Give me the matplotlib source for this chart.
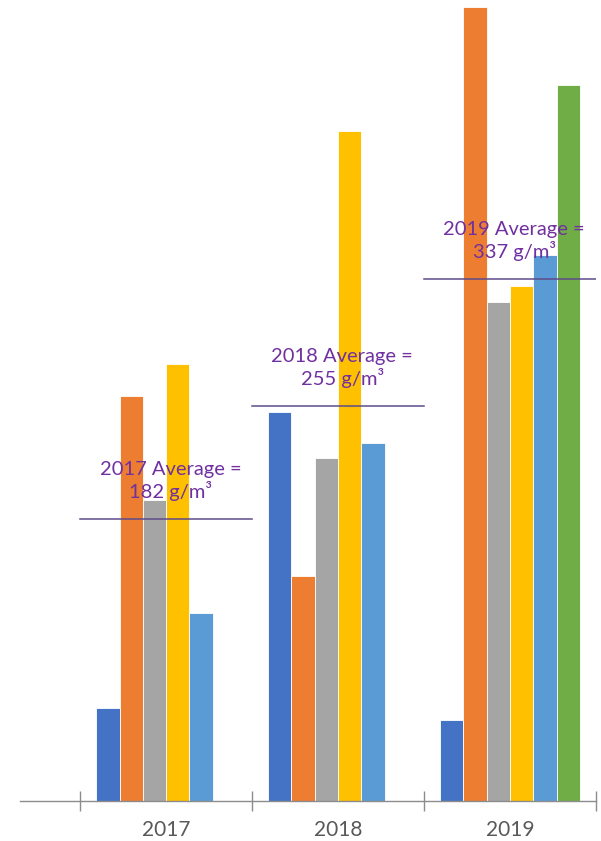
import matplotlib
matplotlib.use("Agg")
import matplotlib.pyplot as plt

years = ['2017', '2018', '2019']
blue = [60, 251, 52]
orange = [261, 145, 512]
gray = [194, 221, 322]
yellow = [282, 432, 332]
light_blue = [121, 231, 352]
green = [None, None, 462]
averages = [182, 255, 337]

series = [blue, orange, gray, yellow, light_blue, green]
colors = ['#4472C4', '#ED7D31', '#A5A5A5', '#FFC000', '#5B9BD5', '#70AD47']

plt.rcParams['font.family'] = ['Lato', 'DejaVu Sans']

fig = plt.figure(figsize=(6.01, 8.41), dpi=100)
ax = fig.add_axes([20/601, 40/841, 576/601, 801/841])

w = 0.1355
for i, (vals, c) in enumerate(zip(series, colors)):
    for j, v in enumerate(vals):
        if v is None:
            continue
        ax.bar(j + (i - 2.5) * w, v, width=w, color=c, edgecolor='white', linewidth=0.6, zorder=2)

# average lines + labels
for j, (yr, avg) in enumerate(zip(years, averages)):
    ax.plot([j - 0.5, j + 0.5], [avg, avg], color='#5E4B8B', lw=1.1, zorder=3)
    ax.annotate(yr + ' Average =\n' + str(avg) + ' g/m³', xy=(j, avg), xytext=(3, 13),
                textcoords='offset points', ha='center', va='bottom', color='#7030A0',
                fontsize=14.5, linespacing=1.15, zorder=4)

ax.set_xlim(-0.85, 2.5)
ax.set_ylim(0, 516.8)
for s in ['top', 'right', 'left']:
    ax.spines[s].set_visible(False)
ax.spines['bottom'].set_color('#8C8C8C')
ax.spines['bottom'].set_linewidth(1.0)
ax.set_yticks([])
ax.set_xticks([-0.5, 0.5, 1.5, 2.5])
ax.set_xticklabels([])
ax.tick_params(axis='x', which='major', direction='inout', length=14, color='#8C8C8C', width=1.0)
ax.set_xticks([0, 1, 2], minor=True)
ax.set_xticklabels(years, minor=True)
ax.tick_params(axis='x', which='minor', length=0, pad=14, labelsize=15, labelcolor='#595959')

fig.savefig('out.png', dpi=100)
